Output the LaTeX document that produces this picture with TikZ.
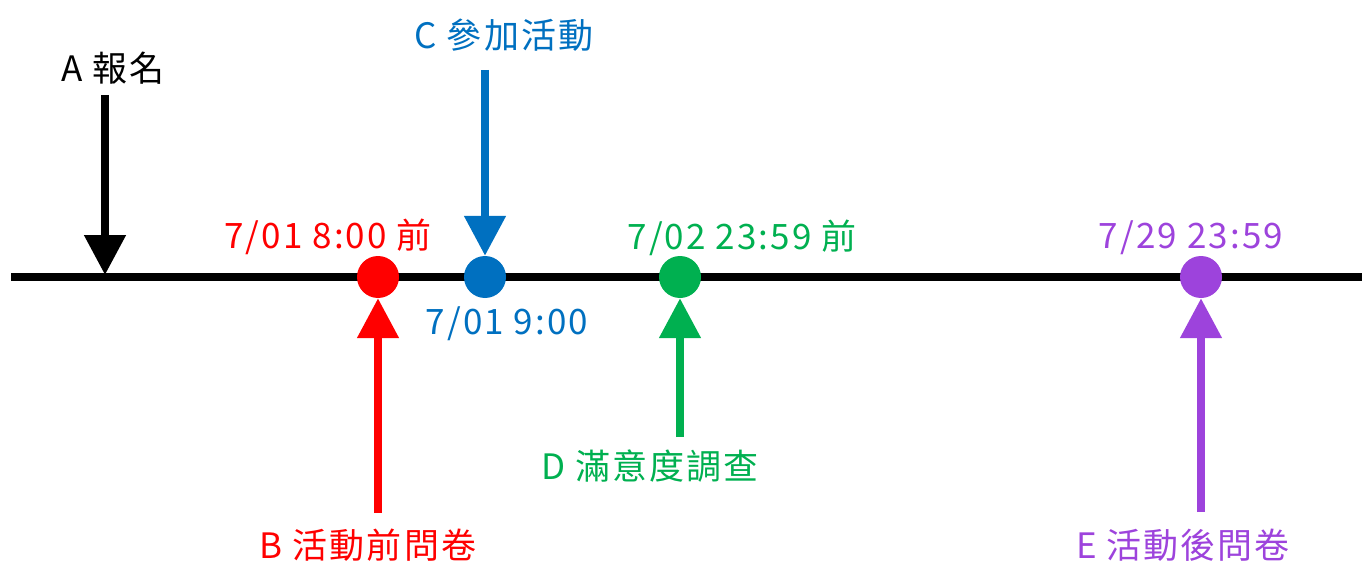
\documentclass[tikz,border=0pt]{standalone}
\usepackage{fontspec}
\setmainfont{Noto Sans CJK TC}[LetterSpace=6]
\usetikzlibrary{arrows.meta}
\definecolor{cred}{RGB}{255,0,0}
\definecolor{cblue}{RGB}{0,112,192}
\definecolor{cgreen}{RGB}{0,176,80}
\definecolor{cpurple}{RGB}{157,67,220}
\begin{document}
\begin{tikzpicture}[x=1pt,y=-1pt,
  dot/.style={circle,fill=#1,inner sep=0pt,minimum size=42pt},
  evarrow/.style={draw=#1,line width=8pt,-{Triangle[width=40pt,length=40pt,fill=#1]}},
  lbl/.style={text=#1,font=\fontsize{35}{40}\selectfont,inner sep=0pt,anchor=center}]
\useasboundingbox (0,0) rectangle (1362,564);
% timeline
\coordinate (tlL) at (11,277);
\coordinate (tlR) at (1362,277);
\draw[line width=8pt] (tlL) -- (tlR);
% dots
\node[dot=cred] (dB) at (378,277) {};
\node[dot=cblue] (dC) at (485,277) {};
\node[dot=cgreen] (dD) at (680,277) {};
\node[dot=cpurple] (dE) at (1201,277) {};
% A
\node[lbl=black] (lA) at (113,68) {A 報名};
\coordinate (sA) at (105,95);
\coordinate (eA) at (105,275);
\draw[evarrow=black] (sA) -- (eA);
% C
\node[lbl=cblue] (lC) at (504,35) {C 參加活動};
\coordinate (sC) at (485,70);
\draw[evarrow=cblue] (sC) -- (dC);
% B
\node[lbl=cred] (tB) at (328,237) {7/01 8:00 前};
\node[lbl=cred] (lB) at (368,545) {B 活動前問卷};
\coordinate (sB) at (378,513);
\draw[evarrow=cred] (sB) -- (dB);
% C time
\node[lbl=cblue] (tC) at (507,324) {7/01 9:00};
% D
\node[lbl=cgreen] (tD) at (742,238) {7/02 23:59 前};
\node[lbl=cgreen] (lD) at (650,466) {D 滿意度調查};
\coordinate (sD) at (680,437);
\draw[evarrow=cgreen] (sD) -- (dD);
% E
\node[lbl=cpurple] (tE) at (1191,238) {7/29 23:59};
\node[lbl=cpurple] (lE) at (1183,545) {E 活動後問卷};
\coordinate (sE) at (1201,512);
\draw[evarrow=cpurple] (sE) -- (dE);
\end{tikzpicture}
\end{document}
